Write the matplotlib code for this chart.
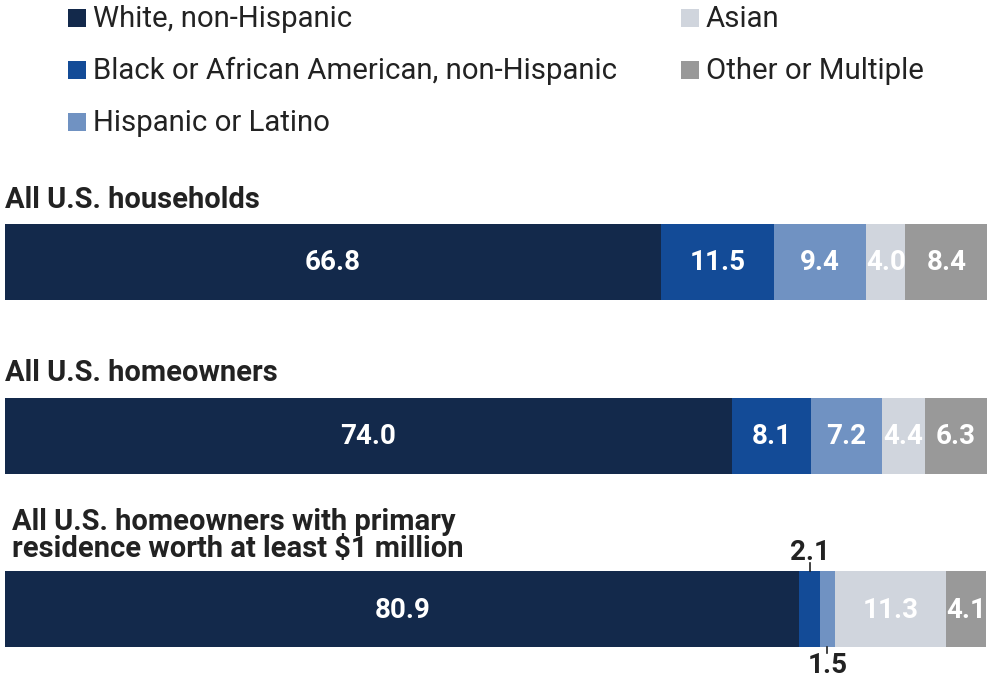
import matplotlib
matplotlib.use("Agg")
import matplotlib.pyplot as plt
from matplotlib.patches import Rectangle

plt.rcParams['font.family'] = ['Roboto', 'DejaVu Sans']

categories = ["White, non-Hispanic", "Black or African American, non-Hispanic",
              "Hispanic or Latino", "Asian", "Other or Multiple"]
colors = ["#13294b", "#134b97", "#7092c2", "#d0d5dd", "#999999"]

groups = ["All U.S. households", "All U.S. homeowners",
          "All U.S. homeowners with primary\nresidence worth at least $1 million"]
households = [66.8, 11.5, 9.4, 4.0, 8.4]
homeowners = [74.0, 8.1, 7.2, 4.4, 6.3]
millionaires = [80.9, 2.1, 1.5, 11.3, 4.1]
values = [households, homeowners, millionaires]

W, H = 988, 679
fig = plt.figure(figsize=(W / 100, H / 100), dpi=100)

# main bar axes: x in percent, y in pixels (inverted)
ax = fig.add_axes([5 / W, 0, 982 / W, 1])
ax.set_xlim(0, 100)
ax.set_ylim(H, 0)
ax.axis('off')

# overlay axes in pixel coordinates for legend and titles
ov = fig.add_axes([0, 0, 1, 1], zorder=3)
ov.set_xlim(0, W)
ov.set_ylim(H, 0)
ov.axis('off')
ov.patch.set_alpha(0)

row_centers = [261.5, 436, 609]
bar_h = 76
title_pos = [(5, 208), (5, 381), (12, 530)]
text_color = "#222222"
val_fs = 20

for gi, (vals, yc) in enumerate(zip(values, row_centers)):
    left = 0
    small_count = 0
    for ci, v in enumerate(vals):
        ax.barh(yc, v, left=left, height=bar_h, color=colors[ci], linewidth=0)
        cx = left + v / 2
        if v >= 3:
            ax.text(cx, yc + 1, f"{v:.1f}", ha='center', va='center', color='white',
                    fontsize=val_fs, fontweight='bold')
        else:
            if small_count % 2 == 0:
                ax.plot([cx, cx], [yc - bar_h / 2, yc - bar_h / 2 - 8], color=text_color, lw=1.2)
                ax.text(cx, yc - bar_h / 2 - 11, f"{v:.1f}", ha='center', va='baseline',
                        color=text_color, fontsize=val_fs, fontweight='bold')
            else:
                ax.plot([cx, cx], [yc + bar_h / 2, yc + bar_h / 2 + 6], color=text_color, lw=1.2)
                ax.text(cx, 679, f"{v:.1f}", ha='center', va='bottom',
                        color=text_color, fontsize=val_fs, fontweight='bold')
            small_count += 1
        left += v
    tx, ty = title_pos[gi]
    lines = groups[gi].split("\n")
    for li, line in enumerate(lines):
        ov.text(tx, ty + li * 27, line, ha='left', va='baseline', color=text_color,
                fontsize=21, fontweight='bold')

# legend
leg_pos = [(68, 18), (68, 70), (68, 122), (681, 18), (681, 70)]
for (lx, ly), cat, col in zip(leg_pos, categories, colors):
    ov.add_patch(Rectangle((lx, ly - 9), 18, 18, color=col, linewidth=0))
    ov.text(lx + 25, ly + 1, cat, ha='left', va='center', color=text_color, fontsize=21.2)

fig.savefig("out.png", dpi=100)
